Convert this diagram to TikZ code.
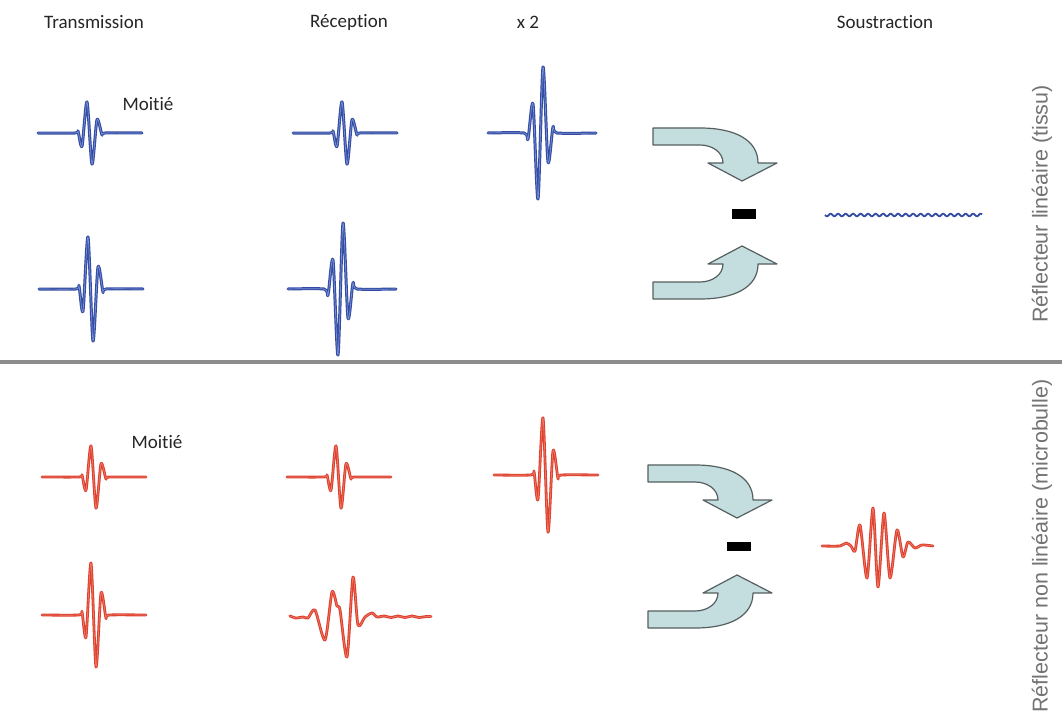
\documentclass[tikz,border=0pt]{standalone}
\usepackage{fontspec}
\setmainfont{Carlito}[Ligatures=NoCommon]
\newfontfamily\labelfont{Liberation Sans}
\definecolor{pulseblue}{RGB}{52,76,162}
\definecolor{pulsebluelt}{RGB}{120,145,215}
\definecolor{pulsered}{RGB}{220,64,46}
\definecolor{pulseredlt}{RGB}{240,120,100}
\definecolor{arrowfill}{RGB}{196,222,224}
\definecolor{arrowline}{RGB}{85,95,95}
\tikzset{
  bluewave/.style={draw=pulseblue, line width=3pt, line cap=round, line join=round, postaction={draw=pulsebluelt, line width=.7pt}},
  redwave/.style={draw=pulsered, line width=2.8pt, line cap=round, line join=round, postaction={draw=pulseredlt, line width=.7pt}},
  bendarrow/.style={fill=arrowfill, draw=arrowline, line width=1.2pt, line join=round},
  title/.style={font=\fontsize{19}{22}\selectfont, text=black!85},
  sidelabel/.style={font=\labelfont\fontsize{21.5}{24}\selectfont, text=black!55, rotate=90},
}
\newcommand\pulseS[3]{\draw[#3, shift={#1}, yscale=#2] plot[smooth, tension=.45] coordinates {(-54,0) (-17,0) (-14,-3) (-10,22) (-5,-52) (0,52) (5,-22) (10,3) (13,0) (50,0)};}
\newcommand\pulseD[2]{\draw[#2, shift={#1}] plot[smooth, tension=.45] coordinates {(-50,0) (-14,0) (-10,6) (-5,-29) (0,66) (5,-66) (10,29) (15,-6) (19,0) (58,0)};}
\newcommand\bentarrow[2]{\draw[bendarrow, shift={#1}, yscale=#2] (0,0) -- (47,0) .. controls (82,0) and (105,12) .. (105,35) -- (124,35) -- (89,53) -- (55,35) -- (70,35) .. controls (70,24) and (59,17) .. (47,17) -- (0,17) -- cycle;}
\begin{document}
\begin{tikzpicture}[x=1pt,y=-1pt]
\useasboundingbox[fill=white] (0,0) rectangle (1062,722);
\node[title] (trans) at (94,22) {Transmission};
\node[title] (recep) at (349,22) {Réception};
\node[title] (double) at (528,22) {x 2};
\node[title] (soustr) at (885,22) {Soustraction};
\node[sidelabel] (lin) at (1042,204) {Réflecteur linéaire (tissu)};
\node[sidelabel] (nonlin) at (1042,546) {Réflecteur non linéaire (microbulle)};
\node[title] (moitieb) at (148,104) {Moitié};
\node[title] (moitier) at (157,442) {Moitié};
\draw[black!45, line width=4pt] (0,362) -- (1062,362);

\pulseS{(92,133)}{0.6}{bluewave}
\pulseS{(347,133)}{0.6}{bluewave}
\pulseS{(93,289)}{1}{bluewave}
\pulseD{(338,289)}{bluewave}
\pulseD{(538,133)}{bluewave}
\draw[draw=pulseblue, line width=1.8pt, shift={(825,215)}] plot[domain=0:157, samples=160, smooth] (\x, {1.3*sin(\x*48)});

\pulseS{(96,477)}{0.6}{redwave}
\pulseS{(341,477)}{0.6}{redwave}
\pulseS{(96,615)}{1}{redwave}
\pulseS{(548,475)}{1.1}{redwave}
\draw[redwave] plot[smooth, tension=.45] coordinates {(290,616) (296,618) (303,617) (308,618) (315,610) (325,640) (332,592) (337,606) (340,610) (347,657) (353,577) (358,625) (365,617) (372,613) (377,617) (384,616) (391,617.5) (398,616) (405,617.5) (412,616) (419,617.5) (426,616.5) (431,616.5)};
\draw[redwave] plot[smooth, tension=.45] coordinates {(822,546) (840,546) (846,543) (851,546) (855,551) (860,525) (867,578) (873,508) (878,587) (884,513) (890,578) (897,530) (903,557) (908,542) (915,548) (922,545) (933,546)};

\bentarrow{(653,128)}{1}
\bentarrow{(653,299)}{-1}
\fill (732,209) rectangle (756,219);
\bentarrow{(648,465)}{1}
\bentarrow{(648,628)}{-1}
\fill (727,542) rectangle (751,551);
\end{tikzpicture}
\end{document}
